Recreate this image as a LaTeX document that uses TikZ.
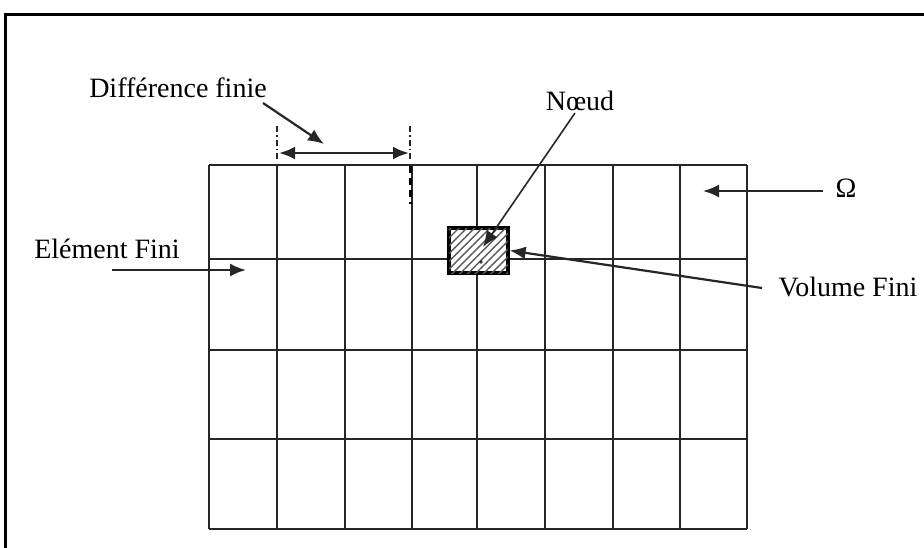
\documentclass[tikz,border=0pt]{standalone}
\usepackage{fontspec}
\setmainfont{Liberation Serif}
\usetikzlibrary{arrows.meta,patterns.meta}
\tikzset{
  lbl/.style={inner sep=0pt, font=\fontsize{28}{32}\selectfont},
  gridline/.style={draw=black!85, line width=2.2pt},
  pointer/.style={draw=black!85, line width=2.2pt, -{Latex[length=16pt,width=13pt]}},
  span/.style={draw=black!85, line width=2.6pt, {Latex[length=16pt,width=13pt]}-{Latex[length=16pt,width=13pt]}},
  guide/.style={draw=black!85, line width=1.3pt, dash pattern=on 6pt off 3pt on 1.5pt off 3pt},
}
\begin{document}
\begin{tikzpicture}[x=1pt,y=-1pt]
  \useasboundingbox (0,0) rectangle (924,547);
  \clip (0,0) rectangle (924,547);
  \fill[white] (0,0) rectangle (924,547);
  % outer frame, open towards right and bottom
  \draw[line width=3pt] (5,560) -- (5,14) -- (940,14);

  % mesh: 8 columns x 4 rows
  \foreach \x in {209,277,345,412,477,545,613,680,747}
    \draw[gridline] (\x,165) -- (\x,529);
  \foreach \y in {165,259,350,439,529}
    \draw[gridline] (209,\y) -- (747,\y);
  \draw[line width=3pt, dash pattern=on 7pt off 5pt] (410,166) -- (410,204);

  % finite volume cell around a node
  \node[draw=black, line width=3.2pt, minimum width=59pt, minimum height=45pt,
        inner sep=0pt, fill=white,
        postaction={pattern={Lines[angle=45,distance=5.5pt,line width=1.4pt]},pattern color=black!65}]
        (vol) at (478.5,250.5) {};
  \fill[black!80] (481,262) circle (1.8pt);
  \coordinate (nd) at (483,247);

  % labels
  \node[lbl] (diff) at (178,88) {Différence finie};
  \node[lbl] (noeud) at (580,101) {N\oe ud};
  \node[lbl] (omega) at (846,188) {Ω};
  \node[lbl] (ef) at (107,249) {Elément Fini};
  \node[lbl] (vf) at (848,287) {Volume Fini};

  % finite difference span
  \coordinate (sl) at (277,153);
  \coordinate (sr) at (410,153);
  \draw[guide] (277,126) -- (277,160);
  \draw[guide] (410,126) -- (410,160);
  \draw[span] ([xshift=2pt]sl) -- ([xshift=-1pt]sr);

  % pointers
  \coordinate (d0) at (263,103);
  \coordinate (d1) at (324,144);
  \draw[pointer] (d0) -- (d1);
  \coordinate (n0) at (575,113);
  \draw[pointer, line width=1.6pt] (n0) -- (nd);
  \coordinate (o0) at (823,191);
  \coordinate (o1) at (703,191);
  \draw[pointer] (o0) -- (o1);
  \coordinate (e0) at (112,270);
  \coordinate (e1) at (246,270);
  \draw[pointer] (e0) -- (e1);
  \coordinate (v0) at (762,288);
  \draw[pointer] (v0) -- (vol.east);
\end{tikzpicture}
\end{document}
